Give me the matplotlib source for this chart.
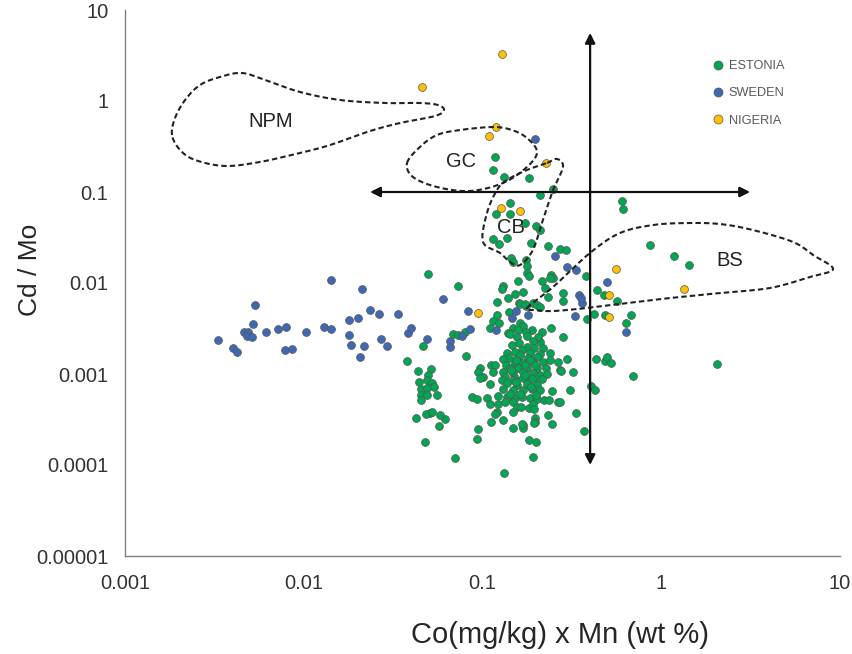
import numpy as np
import matplotlib
matplotlib.use("Agg")
import matplotlib.pyplot as plt
from matplotlib.lines import Line2D

plt.rcParams['font.family'] = ['Liberation Sans', 'DejaVu Sans']

# values, stored as log10(value)
# Estonia - points in/around GC and CB fields
est_upper_lx = [-0.930, -0.941, -0.880, -0.740, -0.605, -0.678, -0.846, -0.924, -0.846, -0.762, -0.700, -0.678,
                -0.941, -0.908, -0.863, -0.729, -0.634, -0.566, -0.533, -0.841, -0.829, -0.757, -0.751, -0.751,
                -0.740, -0.617, -0.605, -0.421, -0.667, -0.802, -0.885, -0.891, -1.305, -1.137, -0.650, -0.818,
                -0.774, -0.858, -0.634, -0.550, -0.360, -0.321, -0.220, -0.214, -0.063, 0.071, 0.155, -0.622]
est_upper_ly = [-0.615, -0.758, -0.835, -0.846, -0.967, -1.033, -1.121, -1.242, -1.242, -1.341, -1.374, -1.418,
                -1.516, -1.571, -1.505, -1.560, -1.593, -1.626, -1.637, -1.725, -1.769, -1.747, -1.813, -1.890,
                -1.923, -1.912, -1.945, -1.923, -1.978, -1.978, -2.033, -2.066, -1.901, -2.033, -2.055, -2.121,
                -2.099, -2.165, -2.154, -2.110, -2.077, -2.132, -1.099, -1.187, -1.582, -1.703, -1.802, -1.945]
# Estonia - just above the main cluster
est_mid_lx = [-0.919, -0.550, -0.248, -0.377, -0.315, -0.416, -0.169, -0.197, -0.617, -0.667, -0.678, -0.550,
              -0.796, -0.757, -0.718, -0.696, -0.678, -0.919, -0.852, -0.941, -0.958, -0.908, -0.858, -0.790,
              -0.762, -0.790, -0.774, -0.829, -0.802, -0.723, -0.757, -0.846, -0.807, -0.751, -0.690, -0.718,
              -0.796, -0.835, -1.165, -1.137, -1.098, -1.333]
est_mid_ly = [-2.209, -2.198, -2.198, -2.341, -2.352, -2.396, -2.352, -2.440, -2.495, -2.538, -2.648, -2.593,
              -2.220, -2.253, -2.220, -2.242, -2.264, -2.352, -2.319, -2.418, -2.495, -2.440, -2.549, -2.231,
              -2.231, -2.440, -2.473, -2.495, -2.516, -2.516, -2.538, -2.560, -2.593, -2.582, -2.593, -2.637,
              -2.659, -2.681, -2.560, -2.571, -2.538, -2.692]
# Estonia - dense core
est_core_lx = [-0.751, -0.712, -0.662, -0.779, -0.818, -0.863, -0.734, -0.678, -0.622, -0.852, -0.802, -0.746,
               -0.696, -0.885, -0.818, -0.774, -0.718, -0.662, -0.622, -0.578, -0.869, -0.846, -0.802, -0.751,
               -0.696, -0.645, -0.952, -0.930, -1.014, -1.025, -0.997, -0.941, -0.885, -0.829, -0.774, -0.718,
               -0.678, -0.639, -0.566, -0.874, -0.818, -0.762, -0.706, -1.014, -0.891, -0.829, -0.774, -0.723,
               -0.667, -0.863, -0.807, -0.751, -0.696, -0.958, -0.885, -0.829, -0.774, -0.723, -0.678, -0.611,
               -0.510, -0.975, -0.913, -0.863, -0.818, -0.779, -0.734, -0.696, -0.656, -0.628, -0.578, -0.958,
               -0.913, -0.874, -0.829, -0.807, -0.785, -0.740, -0.718, -0.712,
               -0.790, -0.735, -0.705, -0.840, -0.760, -0.815, -0.730, -0.790, -0.845, -0.700, -0.760, -0.815]
est_core_ly = [-2.703, -2.714, -2.714, -2.736, -2.758, -2.769, -2.769, -2.780, -2.769, -2.824, -2.824, -2.824,
               -2.813, -2.835, -2.879, -2.879, -2.868, -2.868, -2.846, -2.868, -2.901, -2.934, -2.934, -2.934,
               -2.934, -2.934, -2.901, -2.901, -2.934, -2.978, -3.033, -2.978, -2.978, -2.989, -2.978, -2.989,
               -3.011, -3.000, -2.956, -3.033, -3.044, -3.033, -3.044, -3.044, -3.066, -3.066, -3.044, -3.055,
               -3.055, -3.099, -3.121, -3.110, -3.121, -3.110, -3.165, -3.176, -3.176, -3.165, -3.176, -3.187,
               -3.176, -3.264, -3.242, -3.253, -3.264, -3.253, -3.264, -3.275, -3.286, -3.286, -3.308, -3.330,
               -3.330, -3.308, -3.308, -3.363, -3.363, -3.374, -3.330, -3.385,
               -2.795, -2.850, -2.905, -2.960, -3.010, -3.090, -3.140, -3.215, -3.220, -3.230, -2.905, -2.850]
# Estonia - below / right of the core
est_low_lx = [-0.829, -0.919, -0.930, -0.706, -0.706, -0.634, -0.885, -0.952, -0.829, -0.774, -0.774, -0.779,
              -0.712, -0.611, -1.025, -1.030, -0.740, -0.701, -0.718, -0.880, -1.154, -0.477, -0.432, -0.566,
              -0.394, -0.371, -0.561, -0.494, -0.527, -0.365, -0.315, -0.304, -0.282, -0.159, 0.311, -1.059,
              -1.030, -1.092]
est_low_ly = [-3.418, -3.418, -3.440, -3.484, -3.527, -3.451, -3.505, -3.527, -3.593, -3.560, -3.593, -3.549,
              -3.538, -3.549, -3.604, -3.714, -3.725, -3.747, -3.912, -4.088, -3.923, -3.429, -3.626, -3.308,
              -3.132, -3.176, -2.967, -2.978, -2.835, -2.835, -2.857, -2.813, -2.879, -3.022, -2.890, -3.253,
              -3.275, -2.802]
# Estonia - small group on the left
est_left_lx = [-1.423, -1.361, -1.288, -1.305, -1.355, -1.311, -1.283, -1.344, -1.311, -1.272, -1.344, -1.311,
               -1.255, -1.344, -1.372, -1.322, -1.244, -1.210, -1.238, -1.294, -1.317, -1.283]
est_left_ly = [-2.857, -2.967, -2.945, -3.011, -3.088, -3.066, -3.099, -3.165, -3.154, -3.143, -3.231, -3.231,
               -3.231, -3.286, -3.484, -3.747, -3.571, -3.495, -3.451, -3.429, -3.440, -3.418]

swe_lx = [-2.480, -2.396, -2.374, -2.334, -2.312, -2.318, -2.290, -2.284, -2.273, -2.211, -2.144, -2.099,
          -2.105, -2.068, -1.987, -1.886, -1.847, -1.847, -1.746, -1.696, -1.746, -1.735, -1.662, -1.685,
          -1.673, -1.628, -1.578, -1.567, -1.533, -1.472, -1.416, -1.399, -1.310, -1.221, -1.182, -1.182,
          -1.081, -1.070, -1.115, -0.924, -0.835, -0.813, -0.746, -0.483, -0.527, -0.477, -0.460, -0.445,
          -0.449, -0.304, -0.197, -0.706, -0.594]
swe_ly = [-2.626, -2.714, -2.758, -2.538, -2.538, -2.582, -2.593, -2.451, -2.242, -2.538, -2.505, -2.484,
          -2.736, -2.725, -2.538, -2.484, -2.505, -1.967, -2.407, -2.385, -2.571, -2.681, -2.692, -2.813,
          -2.066, -2.297, -2.341, -2.615, -2.692, -2.341, -2.549, -2.495, -2.615, -2.176, -2.637, -2.703,
          -2.308, -2.505, -2.582, -2.516, -2.385, -2.308, -2.352, -2.363, -1.824, -1.857, -2.132, -2.220,
          -2.165, -1.989, -2.538, -0.418, -1.703]

nig_lx = [-0.891, -1.339, -0.924, -0.963, -0.645, -0.897, -0.790, -1.025, -0.252, -0.292, -0.292, 0.127]
nig_ly = [0.516, 0.154, -0.286, -0.385, -0.681, -1.176, -1.209, -2.330, -1.846, -2.132, -2.374, -2.066]

# field outlines (log10 x, log10 y)
npm_lx = [-2.737, -2.720, -2.664, -2.580, -2.469, -2.346, -2.217, -2.021, -1.797, -1.545, -1.350, -1.249,
          -1.216, -1.266, -1.462, -1.629, -1.853, -2.021, -2.245, -2.441, -2.608, -2.692]
npm_ly = [-0.374, -0.187, 0.011, 0.176, 0.264, 0.308, 0.231, 0.099, 0.011, -0.022, -0.022, -0.044,
          -0.099, -0.165, -0.242, -0.330, -0.484, -0.571, -0.670, -0.714, -0.648, -0.538]
gc_lx = [-1.422, -1.350, -1.255, -1.126, -0.941, -0.835, -0.751, -0.695, -0.751, -0.885, -1.070, -1.255, -1.389]
gc_ly = [-0.681, -0.505, -0.374, -0.319, -0.286, -0.319, -0.407, -0.560, -0.725, -0.901, -0.989, -0.945, -0.835]
cb_lx = [-0.639, -0.583, -0.550, -0.605, -0.662, -0.718, -0.790, -0.846, -0.902, -0.997, -0.975, -0.919,
         -0.863, -0.751]
cb_ly = [-0.681, -0.637, -0.725, -0.978, -1.308, -1.637, -1.802, -1.769, -1.670, -1.549, -1.231, -0.978,
         -0.868, -0.758]
bs_lx = [-0.751, -0.605, -0.399, -0.231, -0.046, 0.144, 0.329, 0.513, 0.737, 0.849, 0.961, 0.832, 0.608,
         0.329, 0.049, -0.231, -0.416, -0.605, -0.706]
bs_ly = [-2.275, -2.044, -1.670, -1.451, -1.363, -1.341, -1.352, -1.418, -1.549, -1.692, -1.846, -1.934,
         -2.055, -2.110, -2.165, -2.231, -2.275, -2.308, -2.297]

field_names = ['NPM', 'GC', 'CB', 'BS']
field_label_x = [0.0065, 0.076, 0.144, 2.43]
field_label_y = [0.60, 0.214, 0.041, 0.0175]

# threshold arrows
v_arrow_x, v_arrow_y = 0.40, (5.6, 0.0001)
h_arrow_y, h_arrow_x = 0.1, (0.0235, 3.14)


def smooth_closed(lx, ly, n=24):
    # closed Catmull-Rom curve through the traced points (in log space)
    P = np.column_stack([lx, ly])
    m = len(P)
    t = np.linspace(0, 1, n, endpoint=False)[:, None]
    segs = []
    for i in range(m):
        p0, p1, p2, p3 = P[i - 1], P[i], P[(i + 1) % m], P[(i + 2) % m]
        segs.append(0.5 * (2 * p1 + (-p0 + p2) * t + (2 * p0 - 5 * p1 + 4 * p2 - p3) * t ** 2
                           + (-p0 + 3 * p1 - 3 * p2 + p3) * t ** 3))
    segs.append(P[:1])
    c = np.vstack(segs)
    return 10 ** c[:, 0], 10 ** c[:, 1]


fig = plt.figure(figsize=(8.52, 6.54), dpi=100)
ax = fig.add_axes([125 / 852, 98 / 654, 715 / 852, 546 / 654])

est_x = 10 ** np.array(est_upper_lx + est_mid_lx + est_core_lx + est_low_lx + est_left_lx)
est_y = 10 ** np.array(est_upper_ly + est_mid_ly + est_core_ly + est_low_ly + est_left_ly)

green, blue, orange = '#00A651', '#3F68B2', '#FFC000'
kw = dict(s=32, edgecolors='#555555', linewidths=0.5, zorder=3)
ax.scatter(est_x, est_y, c=green, **kw)
ax.scatter(10 ** np.array(swe_lx), 10 ** np.array(swe_ly), c=blue, **kw)
ax.scatter(10 ** np.array(nig_lx), 10 ** np.array(nig_ly), c=orange, **kw)

for lx, ly in [(npm_lx, npm_ly), (gc_lx, gc_ly), (cb_lx, cb_ly), (bs_lx, bs_ly)]:
    sx, sy = smooth_closed(lx, ly)
    ax.plot(sx, sy, color='#222222', lw=1.5, ls=(0, (2.6, 1.5)), zorder=4)

for name, tx, ty in zip(field_names, field_label_x, field_label_y):
    ax.text(tx, ty, name, fontsize=14.5, color='#222222', ha='center', va='center', zorder=5)

ap = dict(arrowstyle='<|-|>', color='#111111', lw=1.6, mutation_scale=15, shrinkA=0, shrinkB=0)
ax.annotate('', xy=(v_arrow_x, v_arrow_y[0]), xytext=(v_arrow_x, v_arrow_y[1]), arrowprops=ap, zorder=6)
ax.annotate('', xy=(h_arrow_x[0], h_arrow_y), xytext=(h_arrow_x[1], h_arrow_y), arrowprops=ap, zorder=6)

ax.set_xscale('log')
ax.set_yscale('log')
ax.set_xlim(0.001, 10)
ax.set_ylim(0.00001, 10)
xticks = [0.001, 0.01, 0.1, 1, 10]
yticks = [0.00001, 0.0001, 0.001, 0.01, 0.1, 1, 10]
ax.set_xticks(xticks)
ax.set_xticklabels(['0.001', '0.01', '0.1', '1', '10'])
ax.set_yticks(yticks)
ax.set_yticklabels(['0.00001', '0.0001', '0.001', '0.01', '0.1', '1', '10'])
ax.minorticks_off()
ax.tick_params(length=0, labelsize=14.5, labelcolor='#333333')
ax.tick_params(axis='x', pad=13)
ax.tick_params(axis='y', pad=12)
for s in ['top', 'right']:
    ax.spines[s].set_visible(False)
for s in ['left', 'bottom']:
    ax.spines[s].set_color('#808080')
    ax.spines[s].set_linewidth(1.0)

fig.text(560 / 852, 1 - 635 / 654, 'Co(mg/kg) x Mn (wt %)', fontsize=21, color='#262626',
         ha='center', va='center')
fig.text(30 / 852, 1 - 270 / 654, 'Cd / Mo', fontsize=19, color='#262626', rotation=90,
         ha='center', va='center')

handles = [Line2D([], [], ls='none', marker='o', markersize=6.5, markerfacecolor=c,
                  markeredgecolor='#555555', markeredgewidth=0.5) for c in (green, blue, orange)]
fig.legend(handles, ['ESTONIA', 'SWEDEN', 'NIGERIA'], loc='upper left',
           bbox_to_anchor=(712 / 852, 1 - 60 / 654), frameon=False, fontsize=9.2,
           handlelength=1.0, handletextpad=0.3, labelspacing=1.2, borderpad=0,
           borderaxespad=0, labelcolor='#595959')

fig.savefig('out.png', dpi=100)
